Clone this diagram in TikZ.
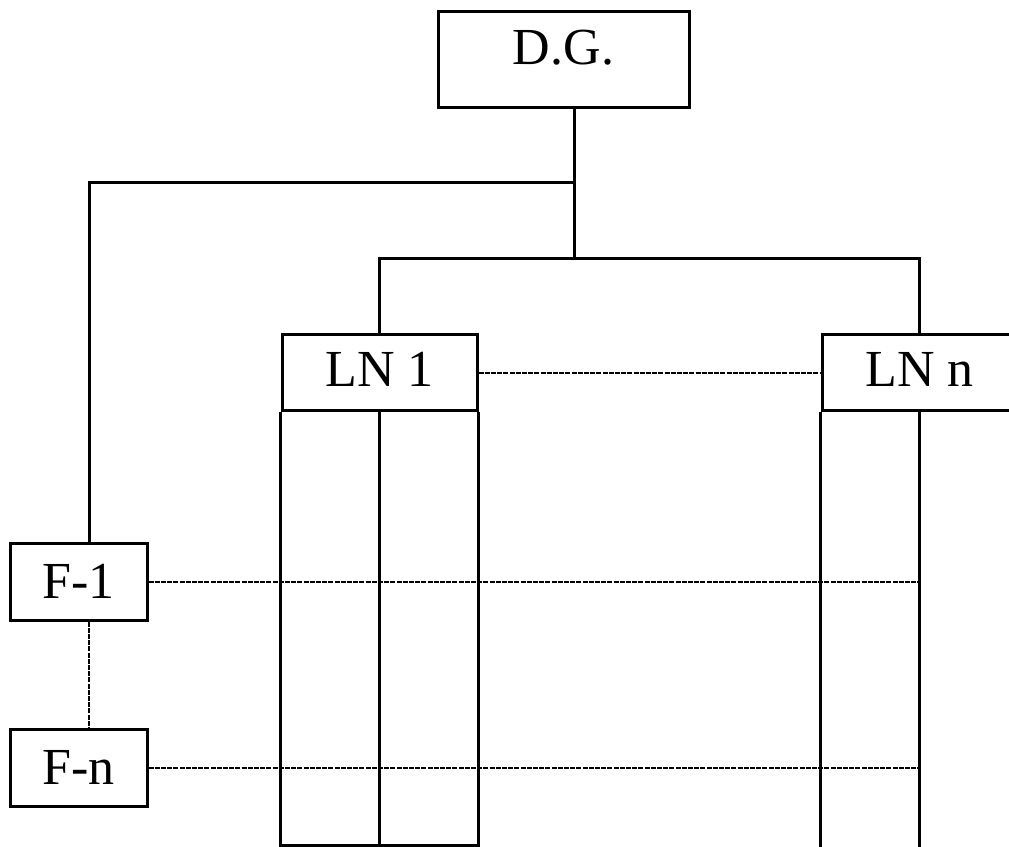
\documentclass[tikz,border=0pt]{standalone}
\usepackage{fontspec}
\setmainfont{Liberation Serif}
\usetikzlibrary{calc}

\begin{document}
\begin{tikzpicture}[
    x=0.5pt, y=-0.5pt,
    font=\fontsize{26}{30}\selectfont,
    box/.style={draw, line width=1.5pt, inner xsep=0pt, inner ysep=0pt, align=center},
    dgbox/.style={box, minimum width=125.5pt, text height=26.5pt, text depth=21.5pt},
    lnbox/.style={box, minimum width=97.5pt, text height=26pt, text depth=12pt},
    fbox/.style={box, minimum width=68.5pt, text height=27.5pt, text depth=11pt},
    wire/.style={line width=1.5pt},
    dotwire/.style={line width=1pt, dash pattern=on 2.5pt off 0.6pt}
]
\clip (0,0) rectangle (1009,847);
\fill[white] (0,0) rectangle (1009,847);

\node[dgbox] (dg) at (563.5,59) {D.G.};
\node[lnbox] (ln1) at (379.5,372.5) {LN 1};
\node[lnbox] (lnn) at (919.5,372.5) {LN n};
\node[fbox] (f1) at (78.5,581.5) {F-1};
\node[fbox] (fn) at (78.5,767.5) {F-n};

\coordinate (hub) at (574,182);
\coordinate (split) at (574,258);
\coordinate (fcol) at (89,0);
\coordinate (floor) at (0,845);

\draw[wire] (dg.south -| hub) -- (split);
\draw[wire] (hub) -| (fcol |- f1.north);
\draw[wire] (ln1.north) |- (split) -| (lnn.north);

\draw[wire] (ln1.south west) -- (ln1.south west |- floor) -- (ln1.south east |- floor) -- (ln1.south east);
\draw[wire] (ln1.south) -- (ln1.south |- floor);
\draw[wire] (lnn.south west) -- ++(0,440);
\draw[wire] (lnn.south) -- ++(0,440);

\draw[dotwire] (ln1.east) -- (lnn.west);
\draw[dotwire] (f1.east) -- (f1.east -| lnn.south);
\draw[dotwire] (fn.east) -- (fn.east -| lnn.south);
\draw[dotwire] (fcol |- f1.south) -- (fcol |- fn.north);

\end{tikzpicture}
\end{document}
